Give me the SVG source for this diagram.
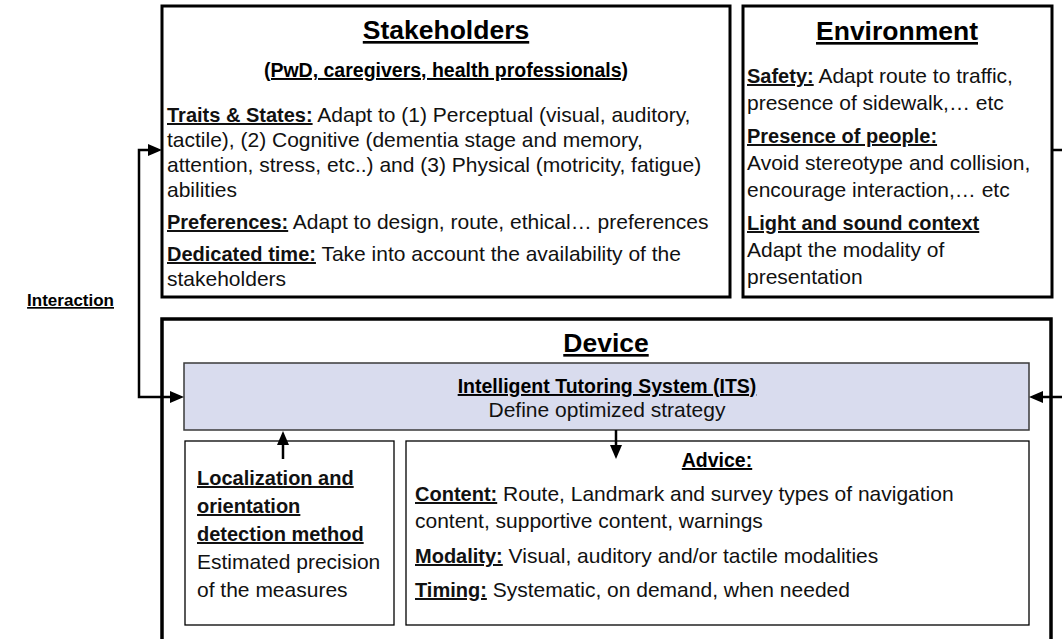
<svg xmlns="http://www.w3.org/2000/svg" width="1062" height="639" viewBox="0 0 1062 639">
<style>
.box{fill:#fff;stroke:#000;stroke-width:3}
.dev{fill:#fff;stroke:#000;stroke-width:3.5}
.its{fill:#D9DCEE;stroke:#3a3a3a;stroke-width:1.5}
.inner{fill:#fff;stroke:#000;stroke-width:1.3}
.t{font-family:"Liberation Sans",Arial,sans-serif;font-size:21px;fill:#111}
.b{font-weight:bold;text-decoration:underline;font-size:20px}
.title{font-family:"Liberation Sans",Arial,sans-serif;font-weight:bold;font-size:26.5px;text-decoration:underline;text-anchor:middle;fill:#000}
.sub{font-family:"Liberation Sans",Arial,sans-serif;font-weight:bold;font-size:19.5px;text-decoration:underline;text-anchor:middle;fill:#000}
.lbl{font-family:"Liberation Sans",Arial,sans-serif;font-weight:bold;font-size:17px;text-decoration:underline;text-anchor:end;fill:#000}
.c{text-anchor:middle}
.conn{fill:none;stroke:#000;stroke-width:2.5}
</style>
<defs>
<marker id="ah" viewBox="0 0 14 12" refX="10" refY="6" markerWidth="14" markerHeight="12" markerUnits="userSpaceOnUse" orient="auto-start-reverse">
<path d="M0,0 L14,6 L0,12 z" fill="#000"/>
</marker>
</defs>

<g id="stakeholders">
<rect class="box" x="162" y="6" width="568" height="291"/>
<text class="title" x="446" y="39">Stakeholders</text>
<text class="sub" x="446" y="77">(PwD, caregivers, health professionals)</text>
<text class="t" x="167" y="122"><tspan class="b">Traits &amp; States:</tspan> Adapt to (1) Perceptual (visual, auditory,</text>
<text class="t" x="167" y="147">tactile), (2) Cognitive (dementia stage and memory,</text>
<text class="t" x="167" y="172">attention, stress, etc..) and (3) Physical (motricity, fatigue)</text>
<text class="t" x="167" y="197">abilities</text>
<text class="t" x="167" y="229"><tspan class="b">Preferences:</tspan> Adapt to design, route, ethical… preferences</text>
<text class="t" x="167" y="261"><tspan class="b">Dedicated time:</tspan> Take into account the availability of the</text>
<text class="t" x="167" y="286">stakeholders</text>
</g>

<g id="environment">
<rect class="box" x="743" y="6" width="309" height="291"/>
<text class="title" x="897" y="40">Environment</text>
<text class="t" x="747" y="83"><tspan class="b">Safety:</tspan> Adapt route to traffic,</text>
<text class="t" x="747" y="110">presence of sidewalk,… etc</text>
<text class="t" x="747" y="143"><tspan class="b">Presence of people:</tspan></text>
<text class="t" x="747" y="170">Avoid stereotype and collision,</text>
<text class="t" x="747" y="197">encourage interaction,… etc</text>
<text class="t" x="747" y="230"><tspan class="b">Light and sound context</tspan></text>
<text class="t" x="747" y="257">Adapt the modality of</text>
<text class="t" x="747" y="284">presentation</text>
</g>

<g id="device">
<rect class="dev" x="162" y="319" width="889" height="340"/>
<text class="title" x="606" y="352">Device</text>
</g>

<g id="its">
<rect class="its" x="184" y="363" width="845" height="67"/>
<text class="sub" x="607" y="393">Intelligent Tutoring System (ITS)</text>
<text class="t c" x="607" y="417">Define optimized strategy</text>
</g>

<g id="localization">
<rect class="inner" x="185" y="441" width="209" height="184"/>
<text class="t" x="197" y="485"><tspan class="b">Localization and</tspan></text>
<text class="t" x="197" y="513"><tspan class="b">orientation</tspan></text>
<text class="t" x="197" y="541"><tspan class="b">detection method</tspan></text>
<text class="t" x="197" y="569">Estimated precision</text>
<text class="t" x="197" y="597">of the measures</text>
</g>

<g id="advice">
<rect class="inner" x="406" y="441" width="623" height="184"/>
<text class="sub" x="717" y="467">Advice:</text>
<text class="t" x="415" y="501"><tspan class="b">Content:</tspan> Route, Landmark and survey types of navigation</text>
<text class="t" x="415" y="528">content, supportive content, warnings</text>
<text class="t" x="415" y="563"><tspan class="b">Modality:</tspan> Visual, auditory and/or tactile modalities</text>
<text class="t" x="415" y="597"><tspan class="b">Timing:</tspan> Systematic, on demand, when needed</text>
</g>

<g id="interaction-label">
<text class="lbl" x="114" y="306">Interaction</text>
</g>

<g id="connectors">
<path class="conn" d="M180 397 H139 V150 H158" marker-start="url(#ah)" marker-end="url(#ah)"/>
<path class="conn" d="M1052 150 H1075 V397 H1033" marker-end="url(#ah)"/>
<path class="conn" d="M616 430 V455" marker-end="url(#ah)"/>
<path class="conn" d="M283 459 V435" marker-end="url(#ah)"/>
</g>
</svg>
